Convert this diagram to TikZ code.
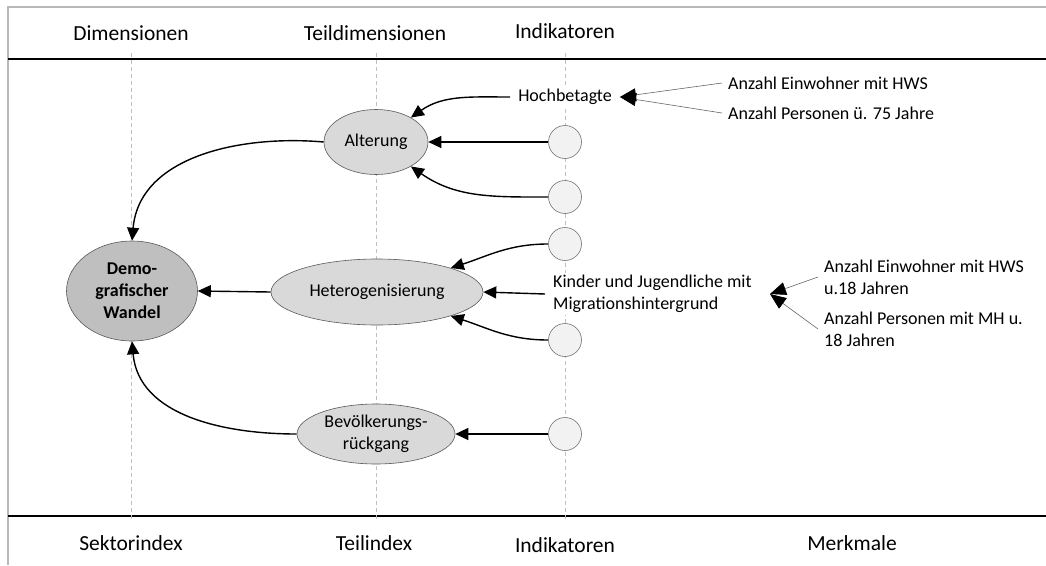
\documentclass[tikz,border=0pt]{standalone}
\usepackage{fontspec}
\setmainfont{Carlito}
\usetikzlibrary{arrows.meta,shapes.geometric}

\begin{document}
\begin{tikzpicture}[x=1pt,y=1pt,
  every node/.style={font=\fontsize{18}{22}\selectfont, text=black},
  hdr/.style={font=\fontsize{21.5}{26}\selectfont},
  guide/.style={draw=black!25, dash pattern=on 4pt off 3pt, line width=0.7pt},
  frameline/.style={draw=black!28, line width=1.8pt},
  rule/.style={draw=black, line width=2.6pt},
  dimbox/.style={ellipse, draw=black!65, line width=0.6pt, fill=black!25,
    minimum width=131pt, minimum height=100pt, inner sep=0pt, align=center,
    font=\bfseries\fontsize{18}{22}\selectfont},
  subbox/.style={ellipse, draw=black!65, line width=0.6pt, fill=black!15,
    inner sep=0pt, align=center},
  indbox/.style={circle, draw=black!55, line width=0.6pt, fill=black!5,
    minimum size=33pt, inner sep=0pt},
  lbl/.style={fill=white, inner xsep=8pt, inner ysep=2pt, align=left},
  feat/.style={inner xsep=6pt, inner ysep=2pt, align=left, anchor=west},
  link/.style={-{Triangle[length=13pt,width=12pt]}, line width=1.4pt, draw=black},
  feed/.style={-{Triangle[length=16pt,width=13pt,color=black]}, line width=0.6pt, draw=black!60}
]
\useasboundingbox (0,0) rectangle (1046,-565);

% frame and rules
\draw[frameline] (1046,-7) -- (8,-7) -- (8,-565);
\draw[rule] (8,-59) -- (1046,-59);
\draw[rule] (8,-516) -- (1046,-516);

% column guides
\draw[guide] (131,-53) -- (131,-520);
\draw[guide] (376,-53) -- (376,-520);
\draw[guide] (565,-53) -- (565,-520);

% column headers and footers
\node[hdr] (hdim) at (131,-33) {Dimensionen};
\node[hdr] (hsub) at (375,-33) {Teildimensionen};
\node[hdr] (hind) at (565,-31) {Indikatoren};
\node[hdr] (fsek) at (131,-543) {Sektorindex};
\node[hdr] (fteil) at (374,-543) {Teilindex};
\node[hdr] (find) at (565,-545) {Indikatoren};
\node[hdr] (fmerk) at (852,-543) {Merkmale};

% index nodes
\node[dimbox] (dw) at (132,-291) {Demo-\\grafischer\\Wandel};
\node[subbox, minimum width=104pt, minimum height=65pt] (alt) at (376,-142) {Alterung};
\node[subbox, minimum width=212pt, minimum height=66pt] (het) at (377,-292) {Heterogenisierung};
\node[subbox, minimum width=158pt, minimum height=60pt] (bev) at (376,-434) {Bevölkerungs-\\rückgang};

% indicators
\node[indbox] (i1) at (565,-142) {};
\node[indbox] (i2) at (565,-197) {};
\node[indbox] (i3) at (565,-244) {};
\node[indbox] (i4) at (565,-340) {};
\node[indbox] (i5) at (565,-434) {};
\node[lbl] (hb) at (565,-97) {Hochbetagte};
\node[lbl, anchor=west] (kj) at (545,-294) {Kinder und Jugendliche mit\\Migrationshintergrund};
\coordinate (kjtip) at (770,-294);

% features
\node[feat] (hb1) at (722,-83) {Anzahl Einwohner mit HWS};
\node[feat] (hb2) at (722,-113) {Anzahl Personen ü. 75 Jahre};
\node[feat] (kj1) at (818,-277) {Anzahl Einwohner mit HWS\\u.18 Jahren};
\node[feat] (kj2) at (818,-329) {Anzahl Personen mit MH u.\\18 Jahren};

% feature links
\draw[feed] (hb1.west) -- (hb.east);
\draw[feed] (hb2.west) -- (hb.east);
\draw[feed] (kj1.west) -- (kjtip);
\draw[feed] (kj2.west) -- (kjtip);

% aggregation links
\draw[link] (alt.west) to[out=175,in=85] (dw.north);
\draw[link] (het.west) -- (dw.east);
\draw[link] (bev.west) to[out=180,in=-85] (dw.south);
\draw[link] (i1.west) -- (alt.east);
\draw[link] (i2.west) to[out=180,in=-35] (alt.-35);
\draw[link] (hb.west) to[out=180,in=35] (alt.35);
\draw[link] (i3.west) to[out=180,in=18] (het.18);
\draw[link] (kj.west) -- (het.east);
\draw[link] (i4.west) to[out=180,in=-18] (het.-18);
\draw[link] (i5.west) -- (bev.east);
\end{tikzpicture}
\end{document}
